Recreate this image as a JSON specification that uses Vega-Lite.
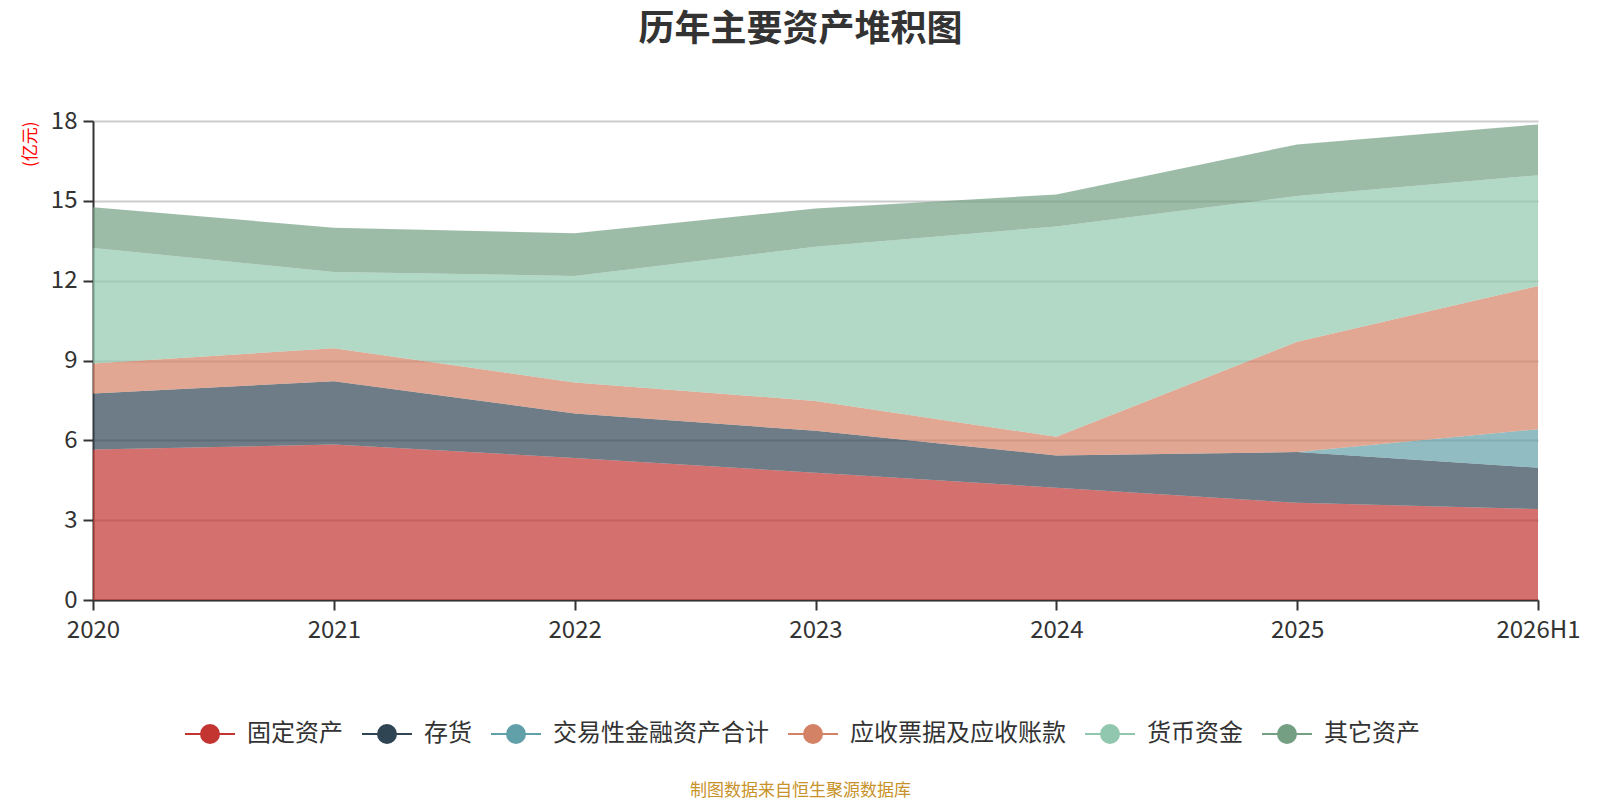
{
  "$schema": "https://vega.github.io/schema/vega-lite/v6.json",
  "width": 1445,
  "height": 479,
  "autosize": {"type": "none"},
  "padding": {"left": 93, "top": 121, "right": 62, "bottom": 200},
  "background": "white",
  "title": {
    "text": "历年主要资产堆积图",
    "font": "Noto Sans CJK SC",
    "fontSize": 36,
    "fontWeight": "bold",
    "color": "#333333",
    "anchor": "middle",
    "dx": -15,
    "offset": 60
  },
  "data": {
    "values": [
      {"year": "2020", "s": "固定资产", "v": 5.66},
      {"year": "2021", "s": "固定资产", "v": 5.84},
      {"year": "2022", "s": "固定资产", "v": 5.34},
      {"year": "2023", "s": "固定资产", "v": 4.78},
      {"year": "2024", "s": "固定资产", "v": 4.22},
      {"year": "2025", "s": "固定资产", "v": 3.65},
      {"year": "2026H1", "s": "固定资产", "v": 3.42},
      {"year": "2020", "s": "存货", "v": 2.10},
      {"year": "2021", "s": "存货", "v": 2.38},
      {"year": "2022", "s": "存货", "v": 1.67},
      {"year": "2023", "s": "存货", "v": 1.58},
      {"year": "2024", "s": "存货", "v": 1.21},
      {"year": "2025", "s": "存货", "v": 1.91},
      {"year": "2026H1", "s": "存货", "v": 1.55},
      {"year": "2020", "s": "交易性金融资产合计", "v": 0},
      {"year": "2021", "s": "交易性金融资产合计", "v": 0},
      {"year": "2022", "s": "交易性金融资产合计", "v": 0},
      {"year": "2023", "s": "交易性金融资产合计", "v": 0},
      {"year": "2024", "s": "交易性金融资产合计", "v": 0},
      {"year": "2025", "s": "交易性金融资产合计", "v": 0},
      {"year": "2026H1", "s": "交易性金融资产合计", "v": 1.45},
      {"year": "2020", "s": "应收票据及应收账款", "v": 1.13},
      {"year": "2021", "s": "应收票据及应收账款", "v": 1.24},
      {"year": "2022", "s": "应收票据及应收账款", "v": 1.16},
      {"year": "2023", "s": "应收票据及应收账款", "v": 1.12},
      {"year": "2024", "s": "应收票据及应收账款", "v": 0.70},
      {"year": "2025", "s": "应收票据及应收账款", "v": 4.14},
      {"year": "2026H1", "s": "应收票据及应收账款", "v": 5.38},
      {"year": "2020", "s": "货币资金", "v": 4.34},
      {"year": "2021", "s": "货币资金", "v": 2.87},
      {"year": "2022", "s": "货币资金", "v": 4.01},
      {"year": "2023", "s": "货币资金", "v": 5.79},
      {"year": "2024", "s": "货币资金", "v": 7.91},
      {"year": "2025", "s": "货币资金", "v": 5.48},
      {"year": "2026H1", "s": "货币资金", "v": 4.16},
      {"year": "2020", "s": "其它资产", "v": 1.53},
      {"year": "2021", "s": "其它资产", "v": 1.66},
      {"year": "2022", "s": "其它资产", "v": 1.60},
      {"year": "2023", "s": "其它资产", "v": 1.44},
      {"year": "2024", "s": "其它资产", "v": 1.20},
      {"year": "2025", "s": "其它资产", "v": 1.94},
      {"year": "2026H1", "s": "其它资产", "v": 1.91}
    ]
  },
  "transform": [
    {
      "calculate": "indexof(['固定资产','存货','交易性金融资产合计','应收票据及应收账款','货币资金','其它资产'], datum.s)",
      "as": "k"
    }
  ],
  "mark": {"type": "area", "fillOpacity": 0.7, "strokeWidth": 0},
  "encoding": {
    "x": {
      "field": "year",
      "type": "ordinal",
      "scale": {"type": "point", "padding": 0},
      "axis": {
        "title": "制图数据来自恒生聚源数据库",
        "titleColor": "#c8922a",
        "titleFont": "Noto Sans CJK SC",
        "titleFontSize": 17,
        "titleFontWeight": "normal",
        "titleX": 707,
        "titleY": 190,
        "titleBaseline": "middle",
        "labelAngle": 0,
        "labelFontSize": 24,
        "labelColor": "#333333",
        "labelPadding": 8,
        "domainColor": "#333333",
        "domainWidth": 2,
        "tickColor": "#333333",
        "tickWidth": 2,
        "tickSize": 10,
        "grid": false
      }
    },
    "y": {
      "field": "v",
      "type": "quantitative",
      "stack": "zero",
      "scale": {"domain": [0, 18], "nice": false},
      "axis": {
        "values": [0, 3, 6, 9, 12, 15, 18],
        "title": "(亿元)",
        "titleColor": "#ff0000",
        "titleFont": "Noto Sans CJK SC",
        "titleFontSize": 17,
        "titleFontWeight": "normal",
        "titleAngle": -90,
        "titleX": -63,
        "titleY": 0,
        "titleAlign": "right",
        "titleBaseline": "middle",
        "labelFontSize": 24,
        "labelColor": "#333333",
        "labelPadding": 6,
        "domainColor": "#333333",
        "domainWidth": 2,
        "tickColor": "#333333",
        "tickWidth": 2,
        "tickSize": 10,
        "gridColor": "#cccccc",
        "gridWidth": 2
      }
    },
    "color": {
      "field": "s",
      "type": "nominal",
      "scale": {
        "domain": ["固定资产", "存货", "交易性金融资产合计", "应收票据及应收账款", "货币资金", "其它资产"],
        "range": ["#c23531", "#2f4554", "#61a0a8", "#d48265", "#91c7ae", "#749f83"]
      },
      "legend": {
        "title": null,
        "orient": "none",
        "direction": "horizontal",
        "legendX": 91,
        "legendY": 587,
        "symbolType": "M-1,0L1,0M-0.36,0A0.36,0.36,0,1,1,0.36,0A0.36,0.36,0,1,1,-0.36,0Z",
        "symbolSize": 2500,
        "symbolStrokeWidth": 2,
        "labelFont": "Noto Sans CJK SC",
        "labelFontSize": 24,
        "labelLimit": 0,
        "labelColor": "#333333",
        "labelOffset": 11,
        "columnPadding": 15,
        "encode": {
          "symbols": {
            "update": {
              "stroke": {"scale": "color", "field": "value"},
              "opacity": {"value": 1},
              "fillOpacity": {"value": 1}
            }
          }
        }
      }
    },
    "order": {"field": "k", "type": "quantitative"}
  },
  "config": {
    "view": {"stroke": null},
    "font": "Noto Sans CJK SC"
  }
}
